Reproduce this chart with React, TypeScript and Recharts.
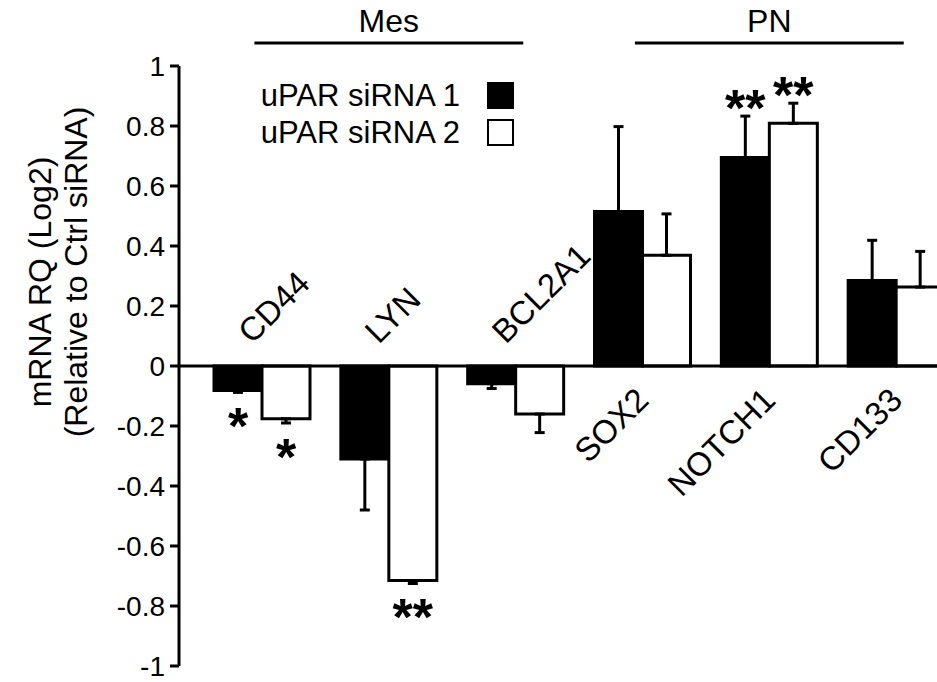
import React from "react";
import { Bar, BarChart, ErrorBar, Legend, ReferenceLine, XAxis, YAxis } from "recharts";

const FONT = "'Liberation Sans', Arial, sans-serif";

const genes = ["CD44", "LYN", "BCL2A1", "SOX2", "NOTCH1", "CD133"];
const groups = ["Mes", "Mes", "Mes", "PN", "PN", "PN"];
const sirna1 = [-0.082, -0.31, -0.059, 0.515, 0.695, 0.285];
const sirna2 = [-0.176, -0.715, -0.16, 0.369, 0.809, 0.263];
const err1 = [0.006, 0.17, 0.016, 0.283, 0.138, 0.134];
const err2 = [0.014, 0.01, 0.062, 0.138, 0.067, 0.119];
const sig1 = ["*", "", "", "", "**", ""];
const sig2 = ["*", "**", "", "", "**", ""];
const yTicks = [1, 0.8, 0.6, 0.4, 0.2, 0, -0.2, -0.4, -0.6, -0.8, -1];

// error bars only point away from zero
const oneSided = (v: number, e: number) => (v < 0 ? [e, 0] : [0, e]);

const data = genes.map((gene, i) => ({
  gene,
  s1: sirna1[i],
  s2: sirna2[i],
  e1: oneSided(sirna1[i], err1[i]),
  e2: oneSided(sirna2[i], err2[i]),
}));

function geom(props: any, value: number) {
  const vb = props.viewBox ?? props;
  const x = Number(vb.x ?? props.x);
  const y = Number(vb.y ?? props.y);
  const w = Number(vb.width ?? props.width);
  const h = Number(vb.height ?? props.height);
  const top = Math.min(y, y + h);
  const bottom = Math.max(y, y + h);
  return {
    x,
    w,
    zero: value < 0 ? top : bottom,
    end: value < 0 ? bottom : top,
    ppu: Math.abs(h) / Math.abs(value),
  };
}

const STAR_FS = 52;

function Stars({ text, cx, endY, down }: { text: string; cx: number; endY: number; down: boolean }) {
  if (!text) return null;
  const c = down ? endY + 22 : endY - 20;
  return (
    <text x={cx} y={c + STAR_FS * 0.575} textAnchor="middle" fontFamily={FONT} fontSize={STAR_FS} fontWeight="bold" fill="#000">
      {text}
    </text>
  );
}

function SeriesOneLabel(props: any) {
  const i = props.index;
  const v = sirna1[i];
  const g = geom(props, v);
  const cx = g.x + g.w; // category centre (two bars, no gap)
  const errY = g.end + (v < 0 ? 1 : -1) * err1[i] * g.ppu;
  const mid = i > 0 && i < groups.length - 1 && groups[i - 1] === groups[i] && groups[i + 1] === groups[i];
  const lx = v < 0 ? cx - 10 : cx + 8;
  const ly = v < 0 ? g.zero - 21 : g.zero + 36;
  return (
    <g>
      <text
        x={lx}
        y={ly}
        textAnchor={v < 0 ? "start" : "end"}
        transform={`rotate(-45 ${lx} ${ly})`}
        fontFamily={FONT}
        fontSize={33}
        fill="#000"
      >
        {genes[i]}
      </text>
      <Stars text={sig1[i]} cx={g.x + g.w / 2} endY={errY} down={v < 0} />
      {mid && (
        <g>
          <line x1={cx - g.w * 2.8} x2={cx + g.w * 2.8} y1={43} y2={43} stroke="#000" strokeWidth={3} />
          <text x={cx} y={32} textAnchor="middle" fontFamily={FONT} fontSize={32} fill="#000">
            {groups[i]}
          </text>
        </g>
      )}
    </g>
  );
}

function SeriesTwoLabel(props: any) {
  const i = props.index;
  const v = sirna2[i];
  const g = geom(props, v);
  const errY = g.end + (v < 0 ? 1 : -1) * err2[i] * g.ppu;
  return <Stars text={sig2[i]} cx={g.x + g.w / 2} endY={errY} down={v < 0} />;
}

function LegendBox({ payload }: any) {
  return (
    <div style={{ width: 263, fontFamily: FONT, fontSize: 31, color: "#000" }}>
      {(payload || []).map((p: any) => (
        <div key={p.value} style={{ display: "flex", alignItems: "center", justifyContent: "flex-end", height: 37 }}>
          <span>{p.value}</span>
          <span
            style={{
              display: "inline-block",
              width: 23,
              height: 23,
              marginLeft: 27,
              background: p.color,
              border: "2px solid #000",
            }}
          />
        </div>
      ))}
    </div>
  );
}

function YTitle() {
  return (
    <g fontFamily={FONT} fontSize={32} fill="#000">
      <text x={40} y={282} textAnchor="middle" dominantBaseline="central" transform="rotate(-90 40 282)">
        mRNA RQ (Log2)
      </text>
      <text x={76} y={272} textAnchor="middle" dominantBaseline="central" transform="rotate(-90 76 272)">
        (Relative to Ctrl siRNA)
      </text>
    </g>
  );
}

export default function App() {
  return (
    <div style={{ position: "absolute", left: 0, top: 0, width: 937, height: 682, overflow: "hidden", background: "#fff" }}>
      <BarChart
        width={960}
        height={682}
        data={data}
        margin={{ top: 66, right: 0, bottom: 16, left: 0 }}
        barSize={48}
        barGap={0}
      >
        <XAxis dataKey="gene" hide padding={{ left: 20, right: 0 }} />
        <YAxis
          domain={[-1, 1]}
          ticks={yTicks}
          width={179}
          interval={0}
          tickSize={9}
          tickMargin={5}
          axisLine={{ stroke: "#000", strokeWidth: 3 }}
          tickLine={{ stroke: "#000", strokeWidth: 3 }}
          tick={{ fill: "#000", fontSize: 28, fontFamily: FONT }}
          label={<YTitle />}
        />
        <Legend
          layout="vertical"
          align="center"
          verticalAlign="middle"
          content={<LegendBox />}
          wrapperStyle={{ left: 251, top: 77, width: "auto" }}
        />
        <Bar dataKey="s1" name="uPAR siRNA 1" fill="#000" stroke="#000" strokeWidth={3} isAnimationActive={false} label={SeriesOneLabel}>
          <ErrorBar dataKey="e1" width={5} stroke="#000" strokeWidth={3} />
        </Bar>
        <Bar dataKey="s2" name="uPAR siRNA 2" fill="#fff" stroke="#000" strokeWidth={3} isAnimationActive={false} label={SeriesTwoLabel}>
          <ErrorBar dataKey="e2" width={5} stroke="#000" strokeWidth={3} />
        </Bar>
        <ReferenceLine y={0} stroke="#000" strokeWidth={3} />
      </BarChart>
    </div>
  );
}
